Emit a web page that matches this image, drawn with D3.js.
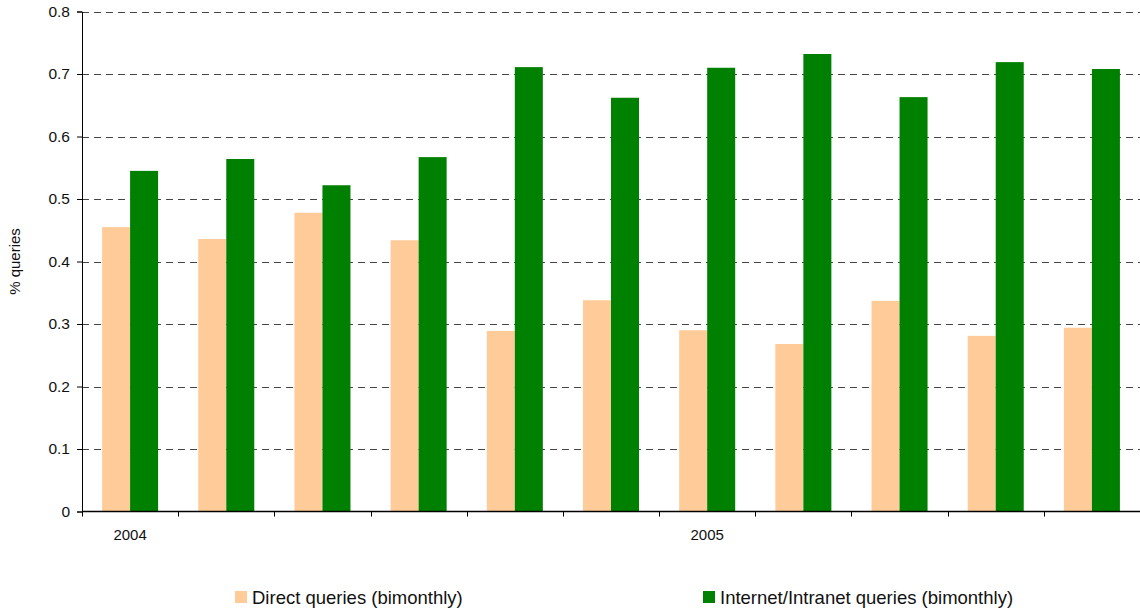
<!DOCTYPE html>
<html>
<head>
<meta charset="utf-8">
<script src="https://cdn.jsdelivr.net/npm/d3@7"></script>
<style>
  html, body { margin: 0; padding: 0; background: #fff; }
  svg { display: block; font-family: "Liberation Sans", Arial, sans-serif; }
</style>
</head>
<body>
<svg id="chart" width="1140" height="613"></svg>
<script>
// Bimonthly periods across 2004–2005
const periods = ["P1", "P2", "P3", "P4", "P5", "P6", "P7", "P8", "P9", "P10", "P11"];
const periodLabels = ["2004", "", "", "", "", "", "2005", "", "", "", ""];
const seriesNames = ["Direct queries (bimonthly)", "Internet/Intranet queries (bimonthly)"];
const directQueries   = [0.455, 0.436, 0.478, 0.434, 0.289, 0.338, 0.290, 0.268, 0.337, 0.281, 0.294];
const internetQueries = [0.545, 0.564, 0.522, 0.567, 0.711, 0.662, 0.710, 0.732, 0.663, 0.719, 0.708];
const yTicks = [0, 0.1, 0.2, 0.3, 0.4, 0.5, 0.6, 0.7, 0.8];
const colors = ["#FFCC99", "#008000"];

const rows = periods.map((p, i) => ({ period: p, values: [directQueries[i], internetQueries[i]] }));

const svg = d3.select("#chart");
const plotLeft = 82, plotRight = 1140, plotTop = 11.5, plotBottom = 511.5;

const x0 = d3.scaleBand().domain(periods).range([plotLeft, plotRight]).padding(0);
const x1 = d3.scaleBand().domain([0, 1]).range([0, x0.bandwidth()])
  .paddingInner(0).paddingOuter(0.717);
const y = d3.scaleLinear().domain([0, 0.8]).range([plotBottom, plotTop]);

// Dashed horizontal gridlines
svg.append("g")
  .selectAll("line")
  .data(yTicks.filter(d => d > 0))
  .join("line")
  .attr("x1", plotLeft).attr("x2", plotRight)
  .attr("y1", d => Math.round(y(d)) + 0.5).attr("y2", d => Math.round(y(d)) + 0.5)
  .attr("stroke", "#444")
  .attr("stroke-width", 1)
  .attr("stroke-dasharray", "7,5");

// Bars
const groups = svg.append("g")
  .selectAll("g")
  .data(rows)
  .join("g")
  .attr("transform", d => `translate(${x0(d.period)},0)`);

groups.selectAll("rect")
  .data(d => d.values.map((v, k) => ({ k, v })))
  .join("rect")
  .attr("x", d => x1(d.k))
  .attr("width", x1.bandwidth())
  .attr("y", d => y(d.v))
  .attr("height", d => y(0) - y(d.v))
  .attr("fill", d => colors[d.k]);

// Y axis
const yAxis = svg.append("g")
  .attr("transform", `translate(${plotLeft},0)`)
  .call(d3.axisLeft(y).tickValues(yTicks).tickFormat(d => d === 0 ? "0" : d3.format(".1f")(d)).tickSize(5).tickPadding(7));
yAxis.select(".domain").attr("stroke", "#000");
yAxis.selectAll(".tick line").attr("stroke", "#000");
yAxis.selectAll("text").attr("font-size", 15.5).attr("fill", "#111")
  .attr("font-family", "'Liberation Sans', Arial, sans-serif");

// X axis: line with boundary ticks between periods
const bounds = periods.map(p => x0(p)).concat([plotRight]);
svg.append("line")
  .attr("x1", plotLeft).attr("x2", plotRight)
  .attr("y1", plotBottom).attr("y2", plotBottom)
  .attr("stroke", "#000").attr("stroke-width", 1.5);
svg.append("g")
  .selectAll("line")
  .data(bounds)
  .join("line")
  .attr("x1", d => Math.round(d) + 0.5).attr("x2", d => Math.round(d) + 0.5)
  .attr("y1", plotBottom).attr("y2", plotBottom + 5)
  .attr("stroke", "#000");

svg.append("g")
  .selectAll("text")
  .data(rows.map((r, i) => ({ period: r.period, label: periodLabels[i] })).filter(d => d.label))
  .join("text")
  .attr("x", d => x0(d.period) + x0.bandwidth() / 2)
  .attr("y", 540)
  .attr("text-anchor", "middle")
  .attr("font-size", 15)
  .attr("fill", "#111")
  .text(d => d.label);

// Y axis title
svg.append("text")
  .attr("transform", `translate(20,${(plotTop + plotBottom) / 2}) rotate(-90)`)
  .attr("text-anchor", "middle")
  .attr("font-size", 15)
  .attr("fill", "#111")
  .text("% queries");

// Legend
const legendX = [235, 703];
const legend = svg.append("g")
  .selectAll("g")
  .data(seriesNames)
  .join("g")
  .attr("transform", (d, i) => `translate(${legendX[i]},591)`);
legend.append("rect")
  .attr("width", 12).attr("height", 12)
  .attr("fill", (d, i) => colors[i]);
legend.append("text")
  .attr("x", 17).attr("y", 13)
  .attr("font-size", 18.5)
  .attr("fill", "#111")
  .text(d => d);
</script>
</body>
</html>
